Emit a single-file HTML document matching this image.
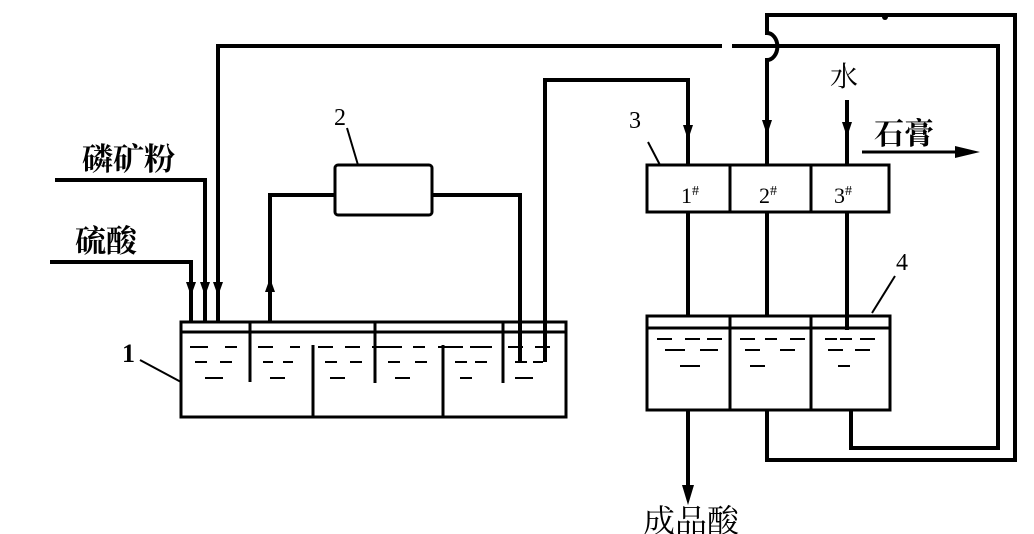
<!DOCTYPE html>
<html><head><meta charset="utf-8"><style>
html,body{margin:0;padding:0;background:#fff;width:1034px;height:534px;overflow:hidden}
text{font-family:"Liberation Serif","Noto Serif CJK SC",serif;fill:#000}
</style></head><body>
<svg width="1034" height="534" viewBox="0 0 1034 534" xmlns="http://www.w3.org/2000/svg">
<g fill="none" stroke="#000" stroke-width="4" stroke-linejoin="miter">
<polyline points="55,180 205,180 205,322"/>
<polyline points="50,262 191,262 191,322"/>
<polyline points="218,322 218,46 722,46"/>
<path d="M732,46 H998 V448 H851 V410"/>
<polyline points="270,322 270,195 335,195"/>
<polyline points="432,195 520,195 520,362"/>
<polyline points="545,362 545,80 688,80 688,165"/>
<path d="M767,165 V60 A10,13 0 0 0 767,33 V15 H1015 V460 H767 V410"/>
<line x1="688" y1="212" x2="688" y2="316"/>
<line x1="767" y1="212" x2="767" y2="316"/>
<line x1="847" y1="212" x2="847" y2="330"/>
<line x1="847" y1="100" x2="847" y2="165"/>
<line x1="688" y1="410" x2="688" y2="490"/>
<line x1="862" y1="152" x2="960" y2="152" stroke-width="3"/>
</g>
<g fill="#000">
<path d="M186,282 L196,282 L191,296Z"/><path d="M200,282 L210,282 L205,296Z"/><path d="M213,282 L223,282 L218,296Z"/>
<path d="M265,292 L275,292 L270,278Z"/>
<path d="M683,125 L693,125 L688,140Z"/><path d="M762,120 L772,120 L767,135Z"/><path d="M842,122 L852,122 L847,137Z"/>
<path d="M682,485 L694,485 L688,505Z"/>
<path d="M955,146 L980,152 L955,158Z"/>
<circle cx="885" cy="17" r="3"/>
</g>
<g fill="#fff" stroke="#000" stroke-width="3">
<rect x="335" y="165" width="97" height="50" rx="3"/>
<rect x="647" y="165" width="242" height="47"/>
</g>
<g fill="none" stroke="#000" stroke-width="3">
<rect x="181" y="322" width="385" height="95"/>
<line x1="181" y1="332" x2="566" y2="332"/>
<line x1="250" y1="322" x2="250" y2="382"/><line x1="375" y1="322" x2="375" y2="383"/><line x1="503" y1="322" x2="503" y2="383"/>
<line x1="313" y1="345" x2="313" y2="417"/><line x1="443" y1="345" x2="443" y2="417"/>
<line x1="730" y1="165" x2="730" y2="212"/><line x1="811" y1="165" x2="811" y2="212"/>
<rect x="647" y="316" width="243" height="94"/>
<line x1="647" y1="328" x2="890" y2="328"/>
<line x1="730" y1="316" x2="730" y2="410"/><line x1="811" y1="316" x2="811" y2="410"/>
</g>
<g stroke="#000" stroke-width="4" fill="none">
<line x1="520" y1="322" x2="520" y2="362"/><line x1="545" y1="322" x2="545" y2="362"/>
</g>
<g stroke="#000" stroke-width="2">
<path d="M190,347h18M225,347h12M258,347h15M290,347h10M318,347h15M345,347h15M372,347h30M413,347h12M438,347h25M470,347h22M508,347h15M535,347h15
M195,362h12M220,362h12M263,362h10M283,362h10M325,362h12M350,362h12M388,362h12M415,362h12M455,362h12M475,362h12M515,362h12M533,362h10
M205,378h18M270,378h15M330,378h15M395,378h15M460,378h12M515,378h18
M657,339h15M685,339h15M707,339h15M740,339h15M765,339h12M790,339h15M825,339h12M840,339h12M860,339h15
M665,350h20M700,350h18M745,350h15M780,350h15M828,350h15M855,350h15
M680,366h20M750,366h15M838,366h12"/>
<line x1="140" y1="360" x2="181" y2="382"/>
<line x1="347" y1="128" x2="358" y2="165"/>
<line x1="648" y1="142" x2="660" y2="165"/>
<line x1="895" y1="276" x2="872" y2="313"/>
</g>
<g font-size="26">
<text x="82" y="170" font-weight="bold" font-size="31">磷矿粉</text>
<text x="75" y="252" font-weight="bold" font-size="31">硫酸</text>
<text x="122" y="362" font-weight="bold">1</text>
<text x="334" y="125" font-size="24">2</text>
<text x="629" y="128" font-size="24">3</text>
<text x="896" y="270" font-size="24">4</text>
<text x="830" y="86" font-size="28">水</text>
<text x="874" y="144" font-weight="bold" font-size="30">石膏</text>
<text x="681" y="203" font-size="22">1<tspan font-size="14" dy="-8">#</tspan></text>
<text x="759" y="203" font-size="22">2<tspan font-size="14" dy="-8">#</tspan></text>
<text x="834" y="203" font-size="22">3<tspan font-size="14" dy="-8">#</tspan></text>
<text x="643" y="532" font-size="32">成品酸</text>
</g>
</svg>
</body></html>
